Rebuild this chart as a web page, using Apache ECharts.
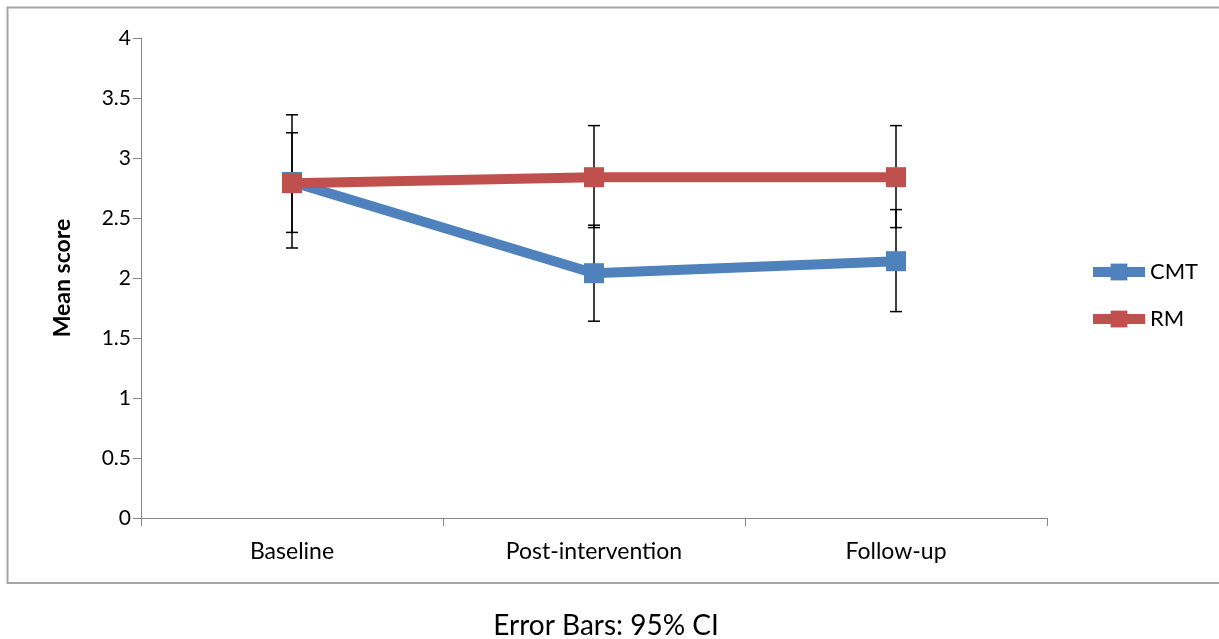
<!DOCTYPE html>
<html>
<head>
<meta charset="utf-8">
<script src="https://cdn.jsdelivr.net/npm/echarts@6/dist/echarts.min.js"></script>
<style>
  html, body { margin: 0; padding: 0; background: #fff; }
  #chart { width: 1219px; height: 639px; }
</style>
</head>
<body>
<div id="chart"></div>
<script>
// Time points and group means with 95% confidence limits
const timePoints = ['Baseline', 'Post-intervention', 'Follow-up'];
const cmtMean = [2.80, 2.04, 2.14];
const cmtLow  = [2.25, 1.64, 1.72];
const cmtHigh = [3.36, 2.44, 2.57];
const rmMean  = [2.79, 2.84, 2.84];
const rmLow   = [2.38, 2.42, 2.42];
const rmHigh  = [3.21, 3.27, 3.27];

const FONT = 'Lato, "Open Sans", sans-serif';
const BLUE = '#4F81BD';
const RED = '#C0504D';

// Vertical whisker with end caps, placed through the category axis scale
function errorBarItem(params, api) {
  const x = api.value(0);
  const lo = api.coord([x, api.value(1)]);
  const hi = api.coord([x, api.value(2)]);
  const half = 6;
  const style = { stroke: '#000', lineWidth: 1.5 };
  return {
    type: 'group',
    children: [
      { type: 'line', shape: { x1: lo[0], y1: lo[1], x2: hi[0], y2: hi[1] }, style },
      { type: 'line', shape: { x1: lo[0] - half, y1: lo[1], x2: lo[0] + half, y2: lo[1] }, style },
      { type: 'line', shape: { x1: hi[0] - half, y1: hi[1], x2: hi[0] + half, y2: hi[1] }, style }
    ]
  };
}

const chart = echarts.init(document.getElementById('chart'), null, { renderer: 'canvas' });
chart.setOption({
  animation: false,
  backgroundColor: '#fff',
  graphic: [
    {
      type: 'rect',
      shape: { x: 7.5, y: 7.5, width: 1230, height: 575.5 },
      style: { fill: 'none', stroke: '#a6a6a6', lineWidth: 2 },
      silent: true
    },
    {
      type: 'text',
      x: 606,
      y: 626,
      style: {
        text: 'Error Bars: 95% CI',
        font: '28px ' + FONT,
        fill: '#000',
        align: 'center',
        verticalAlign: 'middle'
      }
    }
  ],
  grid: { left: 141, right: 172, top: 38, bottom: 121, containLabel: false },
  legend: {
    orient: 'vertical',
    left: 1083,
    top: 256,
    itemWidth: 52,
    itemHeight: 21,
    itemGap: 25,
    lineStyle: { width: 10 },
    textStyle: { fontFamily: FONT, fontSize: 22, color: '#000', padding: [0, 0, 0, 0] },
    data: ['CMT', 'RM']
  },
  xAxis: {
    type: 'category',
    data: timePoints,
    boundaryGap: true,
    axisLine: { lineStyle: { color: '#868686', width: 1 } },
    axisTick: { show: true, length: 8, alignWithLabel: false, lineStyle: { color: '#868686' } },
    axisLabel: { fontFamily: FONT, fontSize: 23, color: '#000', margin: 22 },
    splitLine: { show: false }
  },
  yAxis: {
    type: 'value',
    min: 0,
    max: 4,
    interval: 0.5,
    name: 'Mean score',
    nameLocation: 'middle',
    nameGap: 67,
    nameTextStyle: { fontFamily: FONT, fontSize: 23, fontWeight: 'bold', color: '#000' },
    axisLine: { show: true, lineStyle: { color: '#868686', width: 1 } },
    axisTick: { show: true, length: 8, lineStyle: { color: '#868686' } },
    axisLabel: { fontFamily: FONT, fontSize: 21, color: '#000', margin: 10 },
    splitLine: { show: false }
  },
  series: [
    {
      name: 'CMT-CI',
      type: 'custom',
      renderItem: errorBarItem,
      data: timePoints.map((_, i) => [i, cmtLow[i], cmtHigh[i]]),
      z: 1,
      silent: true
    },
    {
      name: 'RM-CI',
      type: 'custom',
      renderItem: errorBarItem,
      data: timePoints.map((_, i) => [i, rmLow[i], rmHigh[i]]),
      z: 1,
      silent: true
    },
    {
      name: 'CMT',
      type: 'line',
      data: cmtMean,
      symbol: 'rect',
      symbolSize: 20,
      lineStyle: { color: BLUE, width: 10 },
      itemStyle: { color: BLUE },
      z: 3
    },
    {
      name: 'RM',
      type: 'line',
      data: rmMean,
      symbol: 'rect',
      symbolSize: 20,
      lineStyle: { color: RED, width: 10 },
      itemStyle: { color: RED },
      z: 4
    }
  ]
});
</script>
</body>
</html>
